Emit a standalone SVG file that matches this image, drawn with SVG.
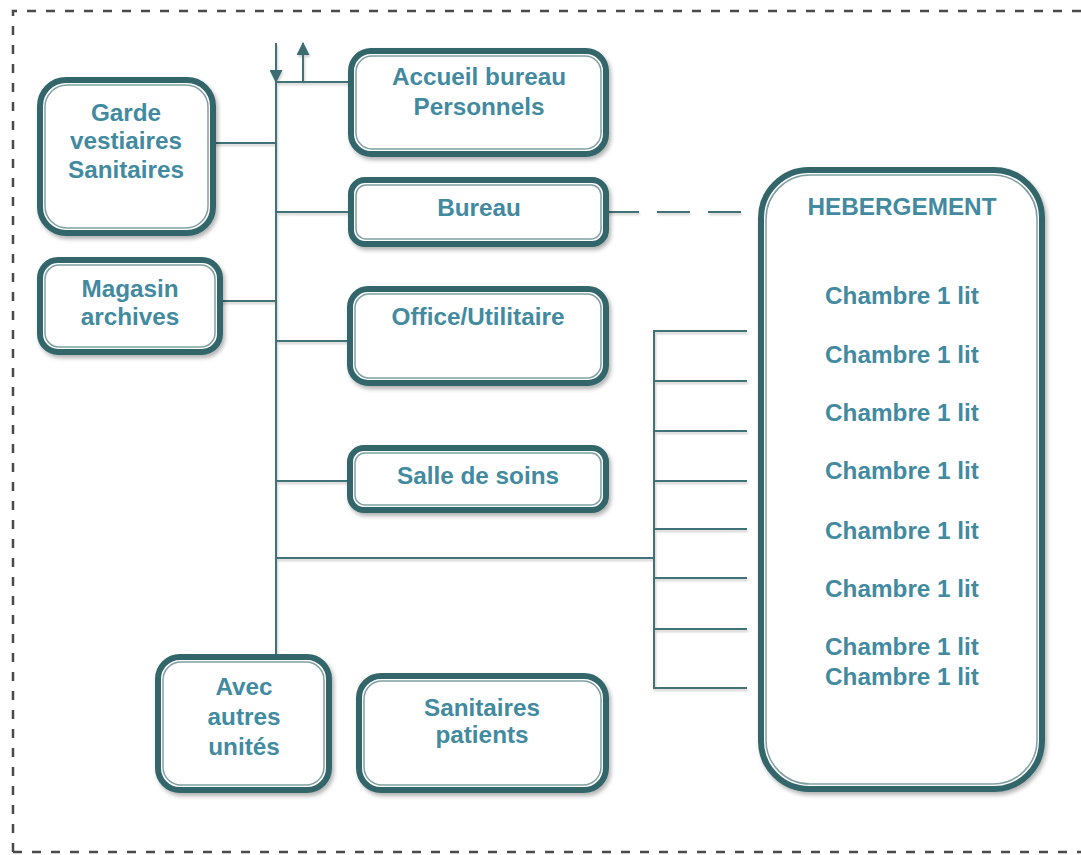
<svg xmlns="http://www.w3.org/2000/svg" width="1081" height="855" viewBox="0 0 1081 855">
<defs>
<filter id="sh" x="-10%" y="-10%" width="130%" height="130%">
<feDropShadow dx="2" dy="3" stdDeviation="2" flood-color="#000" flood-opacity="0.3"/>
</filter>
<filter id="lsh" x="-5%" y="-50%" width="115%" height="300%">
<feDropShadow dx="1" dy="2" stdDeviation="1.2" flood-color="#000" flood-opacity="0.2"/>
</filter>
<marker id="ah" viewBox="0 0 12 12" refX="11" refY="6" markerWidth="13" markerHeight="13" markerUnits="userSpaceOnUse" orient="auto">
<path d="M0,0 L12,6 L0,12 Z" fill="#3a6d72"/>
</marker>
<style>
.o{fill:#fff;stroke:#33666a;stroke-width:6;filter:url(#sh)}
.i{fill:none;stroke:#7fa0a3;stroke-width:1.5}
.t{font-family:"Liberation Sans",Arial,sans-serif;font-weight:bold;font-size:24.3px;fill:#428aa0;text-anchor:middle}
.c{fill:none;stroke:#3f7277;stroke-width:2}
</style>
</defs>
<rect x="0" y="0" width="1081" height="855" fill="#fff"/>
<path d="M13,852 V11 H1090 M13,852 H1090" fill="none" stroke="#4a4a4a" stroke-width="2.5" stroke-dasharray="9 10"/>

<g id="connectors" class="c" filter="url(#lsh)">
<path d="M276,43 V82" marker-end="url(#ah)"/>
<path d="M303,82 V43" marker-end="url(#ah)"/>
<path d="M276,82 V657"/>
<path d="M276,82 H351"/>
<path d="M213,143 H276"/>
<path d="M276,212 H351"/>
<path d="M220,301 H276"/>
<path d="M276,341 H350"/>
<path d="M276,481 H350"/>
<path d="M276,558 H654"/>
<path d="M606,212 H742" stroke-dasharray="33 18"/>
<path d="M747,331 H654 V688 H747"/>
<path d="M654,381 H747 M654,431 H747 M654,481 H747 M654,529 H747 M654,578 H747 M654,629 H747"/>
</g>

<g id="garde">
<rect class="o" x="40" y="80" width="173" height="153" rx="26"/>
<rect class="i" x="45" y="85" width="163" height="143" rx="22"/>
<text class="t" x="126" y="121">Garde</text>
<text class="t" x="126" y="149">vestiaires</text>
<text class="t" x="126" y="178">Sanitaires</text>
</g>

<g id="magasin">
<rect class="o" x="40" y="260" width="180" height="92" rx="18"/>
<rect class="i" x="45" y="265" width="170" height="82" rx="14"/>
<text class="t" x="130" y="297">Magasin</text>
<text class="t" x="130" y="325">archives</text>
</g>

<g id="accueil">
<rect class="o" x="351" y="51" width="255" height="103" rx="20"/>
<rect class="i" x="356" y="56" width="245" height="93" rx="16"/>
<text class="t" x="479" y="85">Accueil bureau</text>
<text class="t" x="479" y="115">Personnels</text>
</g>

<g id="bureau">
<rect class="o" x="351" y="180" width="255" height="64" rx="14"/>
<rect class="i" x="356" y="185" width="245" height="54" rx="10"/>
<text class="t" x="479" y="216">Bureau</text>
</g>

<g id="office">
<rect class="o" x="350" y="289" width="256" height="94" rx="18"/>
<rect class="i" x="355" y="294" width="246" height="84" rx="14"/>
<text class="t" x="478" y="325">Office/Utilitaire</text>
</g>

<g id="salle">
<rect class="o" x="350" y="448" width="256" height="62" rx="14"/>
<rect class="i" x="355" y="453" width="246" height="52" rx="10"/>
<text class="t" x="478" y="484">Salle de soins</text>
</g>

<g id="avec">
<rect class="o" x="158" y="657" width="171" height="133" rx="22"/>
<rect class="i" x="163" y="662" width="161" height="123" rx="18"/>
<text class="t" x="244" y="695">Avec</text>
<text class="t" x="244" y="725">autres</text>
<text class="t" x="244" y="755">unités</text>
</g>

<g id="sanitaires">
<rect class="o" x="359" y="676" width="247" height="114" rx="22"/>
<rect class="i" x="364" y="681" width="237" height="104" rx="18"/>
<text class="t" x="482" y="716">Sanitaires</text>
<text class="t" x="482" y="743">patients</text>
</g>

<g id="hebergement">
<rect class="o" x="761" y="170" width="281" height="619" rx="48"/>
<rect class="i" x="766" y="175" width="271" height="609" rx="44"/>
<text class="t" x="902" y="215">HEBERGEMENT</text>
<text class="t" x="902" y="304">Chambre 1 lit</text>
<text class="t" x="902" y="363">Chambre 1 lit</text>
<text class="t" x="902" y="421">Chambre 1 lit</text>
<text class="t" x="902" y="479">Chambre 1 lit</text>
<text class="t" x="902" y="539">Chambre 1 lit</text>
<text class="t" x="902" y="597">Chambre 1 lit</text>
<text class="t" x="902" y="655">Chambre 1 lit</text>
<text class="t" x="902" y="685">Chambre 1 lit</text>
</g>
</svg>
